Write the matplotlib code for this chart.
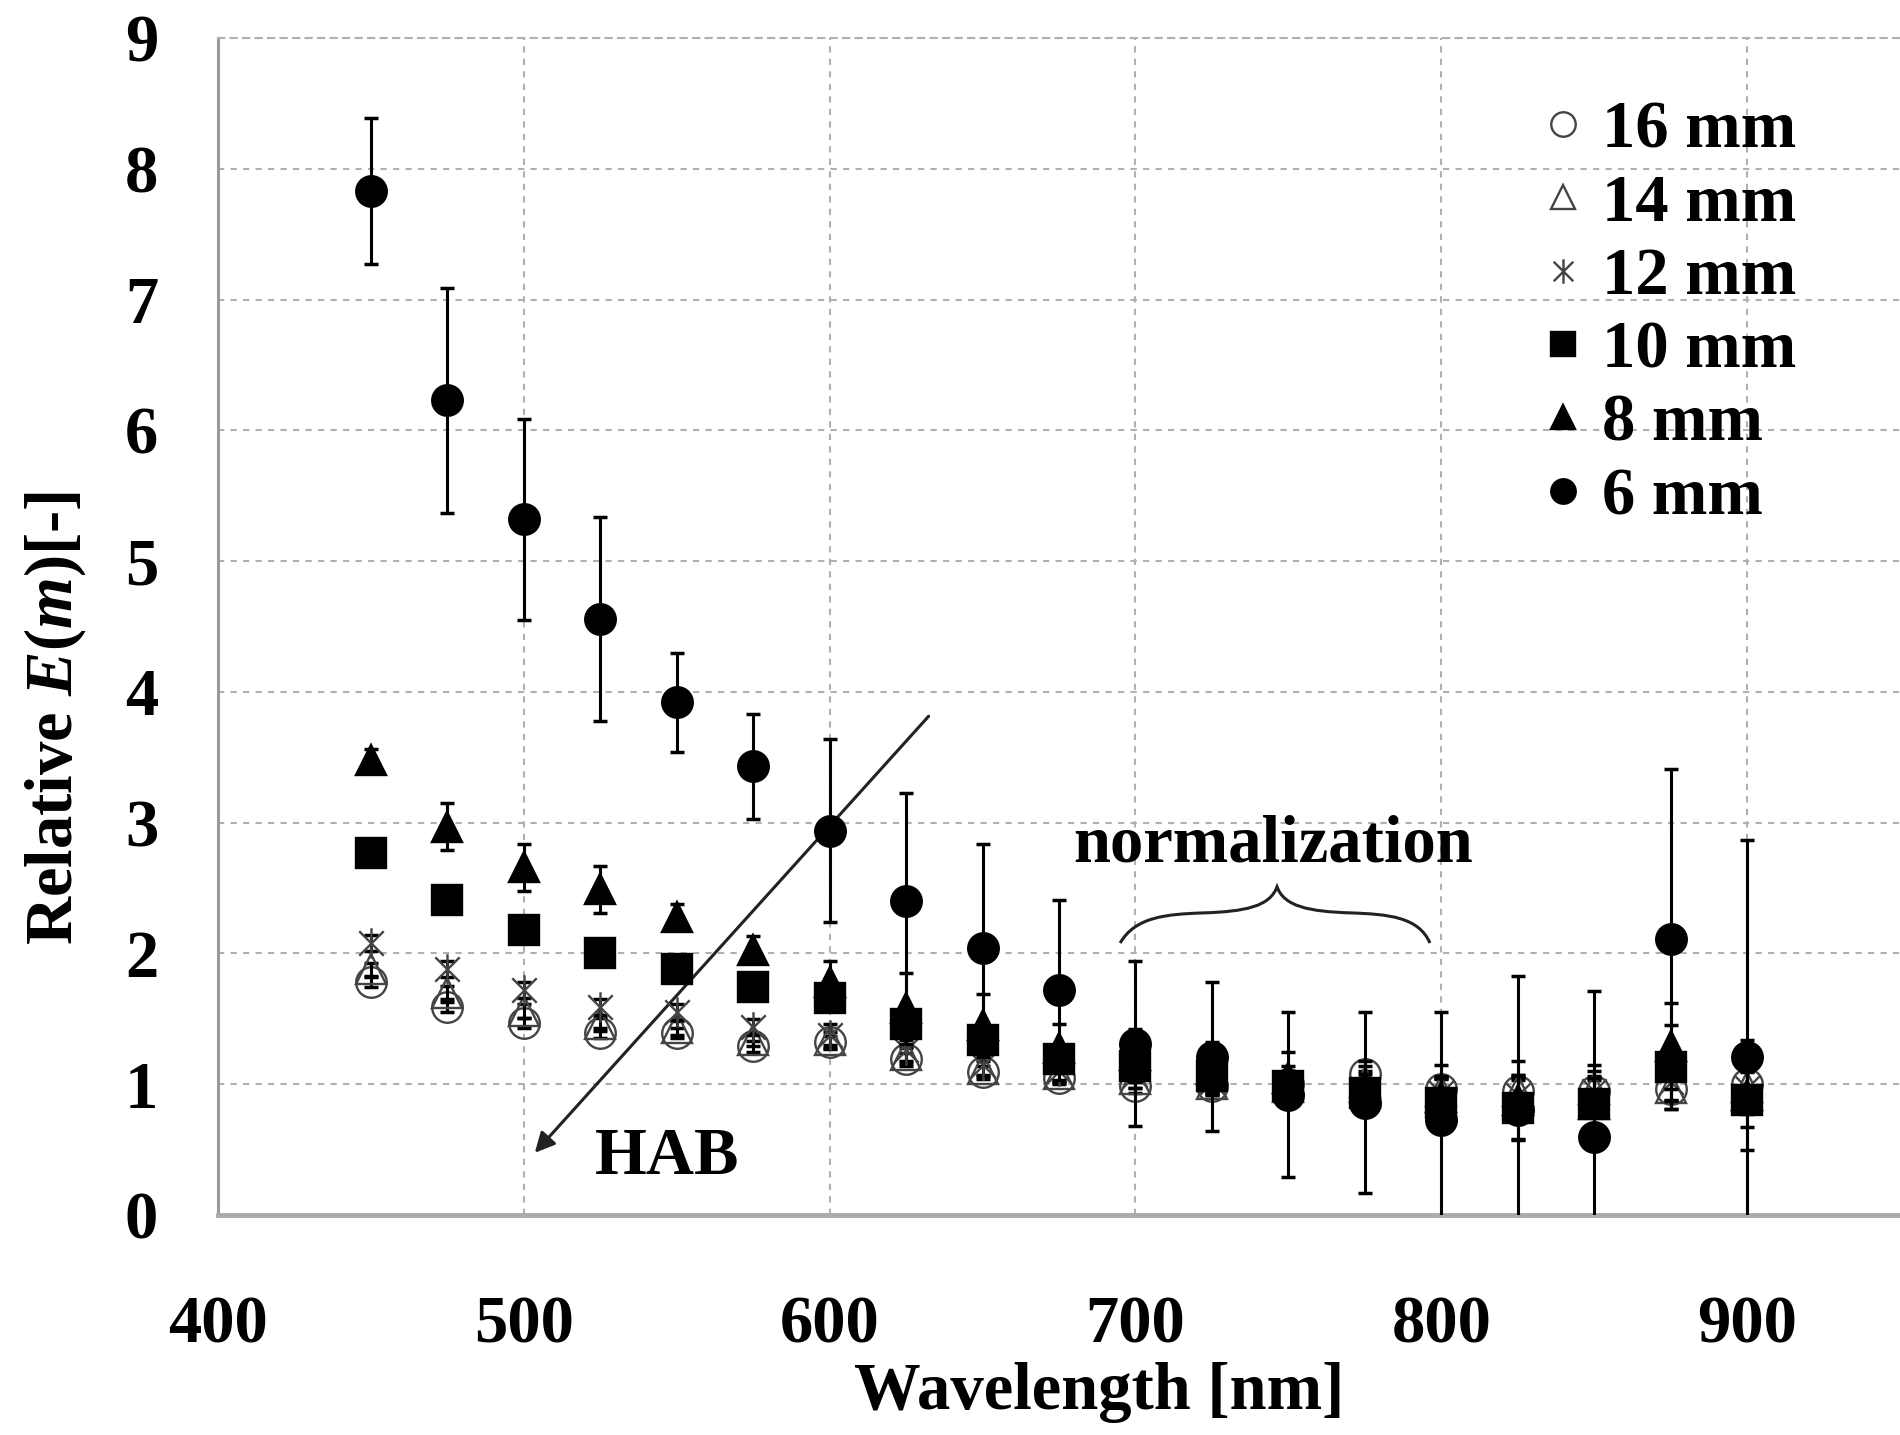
import matplotlib
matplotlib.use("Agg")
import matplotlib.pyplot as plt
from matplotlib.path import Path
from matplotlib.patches import PathPatch

plt.rcParams["font.family"] = "Liberation Serif"
plt.rcParams["font.weight"] = "bold"
plt.rcParams["axes.labelweight"] = "bold"
plt.rcParams["mathtext.fontset"] = "custom"
plt.rcParams["mathtext.rm"] = "Liberation Serif:bold"
plt.rcParams["mathtext.it"] = "Liberation Serif:italic:bold"

wavelength = [450, 475, 500, 525, 550, 575, 600, 625, 650, 675,
              700, 725, 750, 775, 800, 825, 850, 875, 900]

labels = ["16 mm", "14 mm", "12 mm", "10 mm", "8 mm", "6 mm"]

e16 = [1.78, 1.59, 1.47, 1.39, 1.39, 1.29, 1.32, 1.19, 1.09, 1.05,
       0.99, 0.99, 1.00, 1.08, 0.96, 0.95, 0.95, 0.96, 1.00]
e14 = [1.88, 1.70, 1.56, 1.46, 1.43, 1.34, 1.34, 1.22, 1.12, 1.08,
       1.04, 1.00, 0.98, 1.02, 0.95, 0.95, 0.96, 0.97, 0.98]
e12 = [2.08, 1.88, 1.72, 1.59, 1.55, 1.44, 1.38, 1.26, 1.15, 1.10,
       1.07, 1.02, 0.98, 0.95, 0.93, 0.92, 0.95, 1.02, 0.97]
e10 = [2.77, 2.41, 2.18, 2.00, 1.88, 1.74, 1.66, 1.46, 1.34, 1.19,
       1.14, 1.06, 0.99, 0.93, 0.86, 0.82, 0.85, 1.13, 0.88]
e8 = [3.48, 2.97, 2.66, 2.49, 2.28, 2.03, 1.78, 1.58, 1.45, 1.28,
      1.22, 1.12, 1.05, 0.98, 0.90, 0.88, 0.85, 1.29, 0.92]
e6 = [7.83, 6.23, 5.32, 4.56, 3.92, 3.43, 2.94, 2.40, 2.04, 1.72,
      1.31, 1.21, 0.92, 0.86, 0.73, 0.80, 0.60, 2.11, 1.21]

err16 = [0.04, 0.04, 0.04, 0.04, 0.04, 0.04, 0.05, 0.05, 0.05, 0.05,
         0.06, 0.06, 0.06, 0.06, 0.08, 0.08, 0.08, 0.08, 0.10]
err14 = [0.05, 0.05, 0.05, 0.05, 0.05, 0.05, 0.06, 0.06, 0.06, 0.06,
         0.07, 0.07, 0.08, 0.08, 0.10, 0.10, 0.10, 0.10, 0.12]
err12 = [0.06, 0.06, 0.06, 0.06, 0.06, 0.06, 0.08, 0.08, 0.08, 0.08,
         0.10, 0.10, 0.10, 0.10, 0.12, 0.15, 0.15, 0.15, 0.20]
err10 = [0.05, 0.08, 0.06, 0.06, 0.06, 0.06, 0.08, 0.10, 0.10, 0.10,
         0.12, 0.12, 0.15, 0.15, 0.20, 0.25, 0.20, 0.32, 0.21]
err8 = [0.08, 0.18, 0.18, 0.18, 0.10, 0.10, 0.16, 0.27, 0.24, 0.18,
        0.20, 0.20, 0.20, 0.20, 0.25, 0.30, 0.30, 0.33, 0.42]
err6 = [0.56, 0.86, 0.77, 0.78, 0.38, 0.40, 0.70, 0.83, 0.80, 0.69,
        0.63, 0.57, 0.63, 0.69, 0.82, 1.03, 1.11, 1.30, 1.66]

# asterisk marker like the spreadsheet "star": an x with a vertical stroke
star = Path([(0, -1), (0, 1), (-0.8, -0.8), (0.8, 0.8), (-0.8, 0.8), (0.8, -0.8)],
            [Path.MOVETO, Path.LINETO, Path.MOVETO, Path.LINETO, Path.MOVETO, Path.LINETO])

series = [
    (e16, err16, "o", "none", "#444444"),
    (e14, err14, "^", "none", "#444444"),
    (e12, err12, star, "none", "#444444"),
    (e10, err10, "s", "black", "black"),
    (e8, err8, "^", "black", "black"),
    (e6, err6, "o", "black", "black"),
]

fig = plt.figure(figsize=(19, 14.35), dpi=100)
ax = fig.add_axes([0.1147, 0.1533, 0.8853, 0.8202])

handles = []
for i, (vals, errs, mk, fc, ec) in enumerate(series):
    ax.errorbar(wavelength, vals, yerr=errs, fmt="none", ecolor="black",
                elinewidth=2.2, capsize=5, capthick=2.5, zorder=3 + 2 * i)
    ln, = ax.plot(wavelength, vals, linestyle="none", marker=mk, markersize=22,
                  markerfacecolor=fc, markeredgecolor=ec, markeredgewidth=1.7,
                  zorder=4 + 2 * i, label=labels[i])
    handles.append(ln)

ax.set_xlim(400, 950)
ax.set_ylim(0, 9)
ax.set_xticks([400, 500, 600, 700, 800, 900])
ax.set_yticks(range(0, 10))
ax.tick_params(axis="both", length=0, labelsize=48)
ax.tick_params(axis="y", pad=43)
ax.tick_params(axis="x", pad=58)

ax.grid(True, color="#b0b0b0", linestyle=(0, (3, 3)), linewidth=1.5)
ax.set_axisbelow(True)
ax.spines["right"].set_visible(False)
ax.spines["top"].set_color("#b0b0b0")
ax.spines["top"].set_linestyle((0, (3, 3)))
ax.spines["top"].set_linewidth(1.5)
ax.spines["left"].set_color("#999999")
ax.spines["left"].set_linewidth(2.2)
ax.spines["bottom"].set_color("#aaaaaa")
ax.spines["bottom"].set_linewidth(3.5)

ax.set_xlabel("Wavelength [nm]", fontsize=48, fontweight="bold")
ax.xaxis.set_label_coords(0.524, -0.151)
ax.xaxis.label.set_va("center")
ax.set_ylabel("Relative $E(m)$[-]", fontsize=48, fontweight="bold")
ax.yaxis.set_label_coords(-0.097, 0.422)
ax.yaxis.label.set_va("center")

leg = ax.legend(handles=handles, loc="upper left", bbox_to_anchor=(0.788, 0.947),
                frameon=False, fontsize=48, handlelength=0.6, handletextpad=0.28,
                labelspacing=0.185, borderpad=0, borderaxespad=0, markerscale=0.8)

# HAB arrow
ax.annotate("", xy=(503, 0.46), xytext=(633, 3.83),
            arrowprops=dict(arrowstyle="-|>", lw=2.2, color="#222222", mutation_scale=30))
ax.text(547, 0.44, "HAB", fontsize=48, ha="center", va="center")

# normalization brace
ax.text(745, 2.83, "normalization", fontsize=48, ha="center", va="center")
brace = Path([(695, 2.08), (700, 2.28), (710, 2.30), (722, 2.31),
              (736, 2.32), (744, 2.36), (746.3, 2.51),
              (748.6, 2.36), (756.6, 2.32), (770.6, 2.31),
              (782.6, 2.30), (792.6, 2.28), (796.3, 2.08)],
             [Path.MOVETO] + [Path.CURVE4] * 12)
ax.add_patch(PathPatch(brace, facecolor="none", edgecolor="#222222", lw=2.2))

fig.savefig("out.png", dpi=100)
